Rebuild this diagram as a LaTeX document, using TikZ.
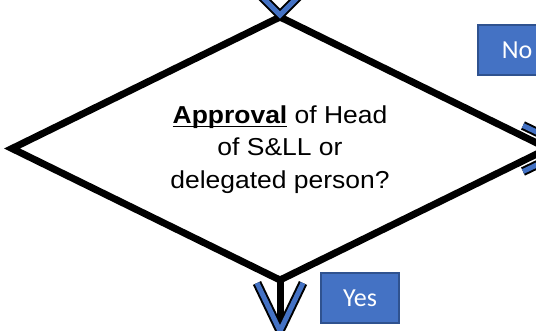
\documentclass[tikz,border=0pt]{standalone}
\usepackage{fontspec}
\usetikzlibrary{shapes.geometric}
\newfontfamily\rombofont{Liberation Sans}[FakeStretch=1.08]
\newfontfamily\cajafont{Carlito}
\definecolor{azul}{HTML}{4472C4}
\definecolor{azulborde}{HTML}{2F528F}
\newcommand{\subrayado}[1]{\setbox0\hbox{#1}\rlap{\rule[-4pt]{\wd0}{1.8pt}}\box0\relax}

\tikzset{
  decision/.style={draw, shape=diamond, line width=7pt, outer sep=0pt, inner sep=0pt,
    minimum width=536pt, minimum height=263pt},
  etiqueta/.style={draw=azulborde, fill=azul, line width=1.5pt, text=white, inner sep=0pt,
    font=\cajafont\fontsize{26}{30}\selectfont, minimum width=78pt, minimum height=50pt},
  tallo/.style={line width=7pt},
  punta/.style={draw=black, double=azul, double distance=5pt, line width=2pt,
    line cap=butt, line join=miter},
}

\begin{document}
\begin{tikzpicture}[x=1pt,y=-1pt]
    \useasboundingbox (0,0) rectangle (536,330);

    % Flecha hacia la derecha (queda debajo del rombo)
    \coordinate (derecha) at (571,148.5);
    \draw[punta] ([shift={(-48,-23)}]derecha) -- (derecha) -- ([shift={(-48,23)}]derecha);

    % Rombo de decision
    \node[decision] (q) at (280,148.5) {};
    \node[align=center, inner sep=0pt, font=\rombofont\fontsize{24.5}{32.5}\selectfont]
      (texto) at (280,149.5) {\subrayado{\textbf{Approval}} of Head\\ of S\&LL or\\ delegated person?};

    % Flecha de entrada
    \coordinate (entrada) at (280,15);
    \draw[punta] ([shift={(-19,-19)}]entrada) -- (entrada) -- ([shift={(19,-19)}]entrada);

    % Flecha de salida
    \coordinate (salida) at (280,331);
    \draw[tallo] (q.south) -- (salida);
    \draw[punta] ([shift={(-23,-48)}]salida) -- (salida) -- ([shift={(23,-48)}]salida);

    % Etiquetas
    \node[etiqueta] (no) at (517,50) {No};
    \node[etiqueta] (si) at (360,298) {Yes};
\end{tikzpicture}
\end{document}
